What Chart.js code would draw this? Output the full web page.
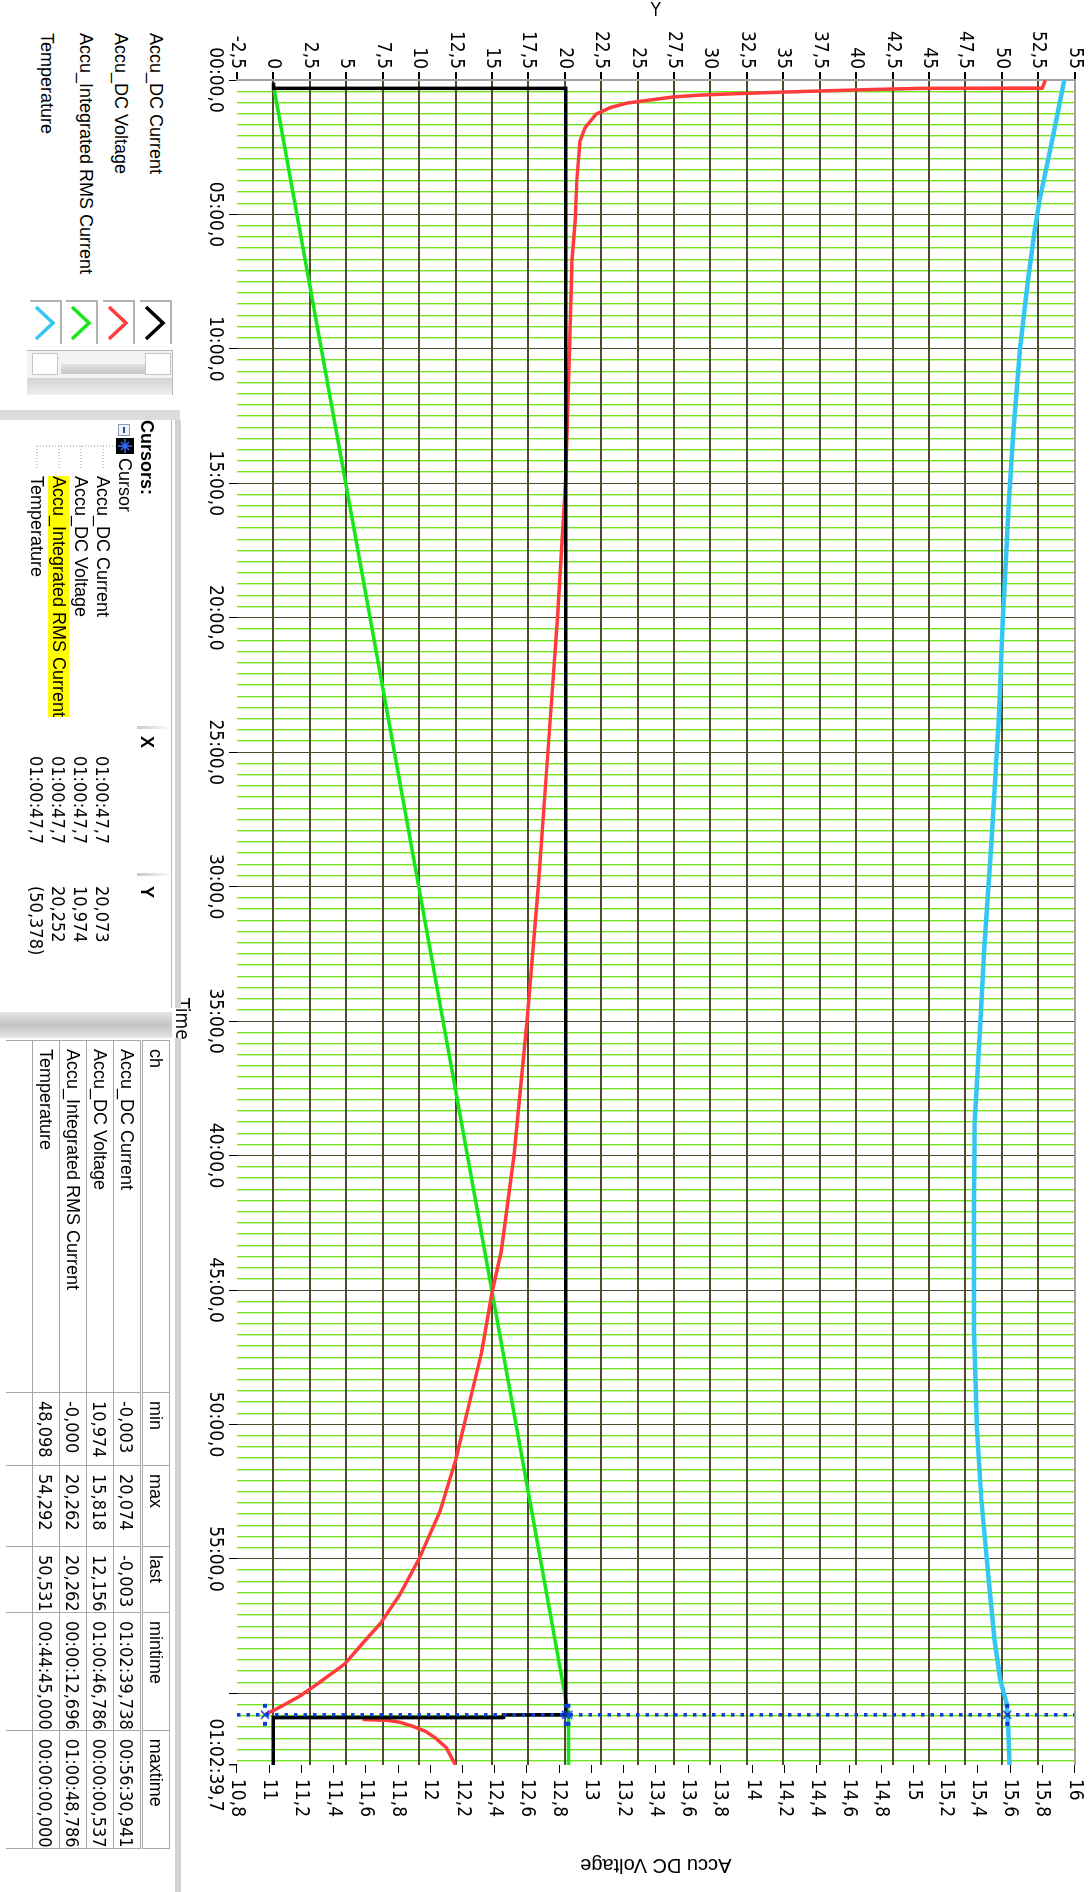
<!DOCTYPE html>
<html>
<head>
<meta charset="utf-8">
<title>Accu discharge</title>
<script src="https://cdn.jsdelivr.net/npm/chart.js@4.4.1/dist/chart.umd.min.js"></script>
<style>
    html, body { margin: 0; padding: 0; background: #fff; width: 1092px; height: 1892px; overflow: hidden; }
    /* the recorder window is laid out landscape and turned a quarter clockwise */
    #stage {
        position: absolute; left: 0; top: 0; width: 1892px; height: 1092px;
        transform-origin: 0 0; transform: translate(1092px, 0) rotate(90deg);
        background: #fff; color: #000;
        font-family: "Liberation Sans", Arial, sans-serif; font-size: 18px;
    }
    #plot { position: absolute; left: 0; top: 0; }
    .abs { position: absolute; white-space: nowrap; line-height: 21px; }
    .narrow { font-family: "Liberation Sans Narrow", "DejaVu Sans Condensed", "Liberation Sans", sans-serif; }
    .chev { position: absolute; width: 42px; height: 30px; border-left: 2px solid #b4b4b4; border-top: 2px solid #b4b4b4; }
    .chev svg { position: absolute; left: 2px; top: 2px; }
    .bar { position: absolute; background: #d6d6d6; }
    .btn { position: absolute; left: 2px; width: 20px; height: 24px; background: #fff; border: 1px solid #c4c4c4; }
    #cursorHead .sep { position: absolute; top: 0; width: 3px; height: 34px; background: linear-gradient(#fff, #c8c8c8); }
    #stats { position: absolute; left: 1040px; top: 922px; border-collapse: collapse; font-size: 18px; }
    #stats td { border: 1px solid #a8a8a8; height: 26px; padding: 0 0 0 8px; white-space: nowrap; vertical-align: middle; }
    #stats tr:first-child td { border-bottom: 3px double #a8a8a8; }
    #stats td.num { font-family: "Liberation Sans Narrow", "DejaVu Sans Condensed", "Liberation Sans", sans-serif; }
</style>
</head>
<body>
<div id="stage">
    <canvas id="plot" width="1892" height="900"></canvas>
    <div class="abs narrow" style="left:998px; top:899px; font-size:19px;">Time</div>

    <!-- channel list with colour chips -->
    <div class="abs" style="left:33px; top:926px;">Accu_DC Current</div>
    <div class="abs" style="left:33px; top:961px;">Accu_DC Voltage</div>
    <div class="abs" style="left:33px; top:996px;">Accu_Integrated RMS Current</div>
    <div class="abs" style="left:33px; top:1035px;">Temperature</div>
    <div id="chips"></div>
    <div style="position:absolute; left:350px; top:919px; width:44px; height:145px; background:#f3f3f3; border-left:1px solid #b8b8b8; border-top:1px solid #b8b8b8;">
        <div class="btn" style="top:1px;"></div>
        <div class="btn" style="top:114px;"></div>
        <div style="position:absolute; left:13px; top:27px; width:10px; height:84px; background:linear-gradient(90deg,#e2e2e2,#c6c6c6);"></div>
        <div style="position:absolute; left:27px; top:0; width:17px; height:145px; background:linear-gradient(90deg,#d4d4d4,#eeeeee);"></div>
    </div>
    <div class="bar" style="left:410px; top:912px; width:10px; height:180px; background:#dcdcdc;"></div>

    <!-- cursor readout -->
    <div class="bar" style="left:420px; top:911px; width:588px; height:6px; background:#d2d2d2;"></div>
    <div id="cursorHead" style="position:absolute; left:420px; top:920px; width:588px; height:36px; border-top:1px solid #b8b8b8;">
        <div class="sep" style="left:306px;"></div>
        <div class="sep" style="left:453px;"></div>
        <div class="abs" style="left:0; top:14px; font-weight:bold;">Cursors:</div>
        <div class="abs" style="left:316px; top:14px; font-weight:bold;">X</div>
        <div class="abs" style="left:466px; top:14px; font-weight:bold;">Y</div>
    </div>
    <div style="position:absolute; left:424px; top:962px; width:10px; height:10px; border:1px solid #8a9ab8; background:#eef2fa;">
        <div style="position:absolute; left:2px; top:4px; width:6px; height:2px; background:#2a4a9a;"></div>
    </div>
    <div style="position:absolute; left:438px; top:958px; width:16px; height:18px; background:#000;">
        <svg width="16" height="18"><path d="M8 2 V16 M1 9 H15 M4 5 L12 13 M12 5 L4 13" stroke="#2f6cff" stroke-width="1.5"/></svg>
    </div>
    <div class="abs" style="left:458px; top:957px;">Cursor</div>
    <svg style="position:absolute; left:440px; top:976px;" width="40" height="90">
        <path d="M6 0 V79 M6 13 H30 M6 35 H30 M6 57 H30 M6 79 H30" stroke="#9a9a9a" stroke-width="1" stroke-dasharray="1 2" fill="none"/>
    </svg>
    <div id="cursorRows"></div>

    <div class="bar" style="left:1012px; top:920px; width:26px; height:172px; background:linear-gradient(90deg,#e6e6e6,#c4c4c4,#e6e6e6);"></div>
    <div class="bar" style="left:1038px; top:911px; width:854px; height:6px; background:#d2d2d2;"></div>
    <table id="stats"></table>
</div>

<script>
// Time in minutes from record start; the record ends at 01:02:39,7
const TIME_END = 62 + 39.7 / 60;
const GRID_STEP = 25 / 60;           // fine grid every 25 s, heavy line every 5 min
const CURSOR_TIME = 60 + 47.7 / 60;  // 01:00:47,7

// Accu_DC Current [A]
const currentTime = [0.1, 0.3, 0.31, 60.79, 60.80, 60.89, 60.90, 62.66];
const currentVals = [0, 0, 20.07, 20.074, 15.8, 15.8, -0.003, -0.003];

// Accu_DC Voltage [V] (right axis); null marks the jump when the load drops off
const voltageTime = [0.01, 0.30, 0.31, 0.36, 0.45, 0.52, 0.56, 0.63, 0.74, 0.86, 1.02, 1.27, 1.78, 2.27, 3.7, 5.2, 6.7,
    10, 15, 20, 25, 30, 35, 40, 43.56, 45.05, 47.28, 48.77, 51.27, 53.24, 55.0, 56.33, 57.4, 58.0, 58.9, 59.6, 60.1, 60.5, 60.79,
    60.85, 60.97, 61.0, 61.07, 61.22, 61.41, 61.65, 62.02, 62.66];
const voltageVals = [15.818, 15.80, 15.05, 14.70, 14.19, 13.85, 13.68, 13.51, 13.37, 13.22, 13.12, 13.03, 12.96, 12.93, 12.91, 12.90, 12.88,
    12.865, 12.84, 12.79, 12.73, 12.67, 12.60, 12.52, 12.44, 12.385, 12.32, 12.26, 12.16, 12.06, 11.93, 11.81, 11.69, 11.60, 11.47, 11.31, 11.19, 11.07, 10.974,
    null, 11.58, 11.73, 11.81, 11.89, 11.97, 12.03, 12.10, 12.156];

// Accu_Integrated RMS Current [Ah]
const chargeTime = [0.21, 15, 30, 45.05, 60.79, 62.66];
const chargeVals = [0, 4.96, 9.98, 15.0, 20.262, 20.262];

// Temperature [°C]
const tempTime = [0, 2, 4.46, 5.58, 7.43, 10, 13, 15.6, 20.1, 23.8, 28.3, 32.3, 35.3, 38.7, 41.6, 44.75, 46.5, 50.2, 52.8, 55.8, 58.0, 59.5, 60.4, 61.3, 62.66];
const tempVals = [54.292, 53.55, 52.6, 52.26, 51.8, 51.25, 50.8, 50.5, 50.07, 49.8, 49.3, 48.8, 48.5, 48.15, 48.1, 48.098, 48.1, 48.3, 48.6, 49.1, 49.5, 49.9, 50.35, 50.45, 50.531];

// readings at the cursor
const cursorY = [20.073, 10.974, 20.252, 50.378];

const channels = ['Accu_DC Current', 'Accu_DC Voltage', 'Accu_Integrated RMS Current', 'Temperature'];
const channelColors = ['#000000', '#ff3b3b', '#19e619', '#36c6f4'];
const statCols = ['min', 'max', 'last', 'mintime', 'maxtime'];
const statRows = [
    ['-0,003', '20,074', '-0,003', '01:02:39,738', '00:56:30,941'],
    ['10,974', '15,818', '12,156', '01:00:46,786', '00:00:00,537'],
    ['-0,000', '20,262', '20,262', '00:00:12,696', '01:00:48,786'],
    ['48,098', '54,292', '50,531', '00:44:45,000', '00:00:00,000']
];

const NARROW = '"Liberation Sans Narrow", "DejaVu Sans Condensed", "Liberation Sans", sans-serif';
const OLIVE = '#4f4a30';
const FINE = '#74e41e';
const CURSOR_BLUE = '#0c3dd4';

function pts(xs, ys) {
    return xs.map((x, i) => ({ x: x, y: ys[i] }));
}

function comma(v) {
    return String(+v.toFixed(2)).replace('.', ',');
}

function fmtTime(min) {
    const tenths = Math.round(min * 600);
    const h = Math.floor(tenths / 36000);
    const m = Math.floor(tenths / 600) % 60;
    const s = Math.floor(tenths / 10) % 60;
    const p = n => String(n).padStart(2, '0');
    const core = p(m) + ':' + p(s) + ',' + (tenths % 10);
    return h ? p(h) + ':' + core : core;
}

function isEnd(v) {
    return Math.abs(v - TIME_END) < 1e-6;
}

function isMajor(v) {
    return Math.round(v / GRID_STEP) % 12 === 0 && !isEnd(v);
}

// cursor mark: a small cross with a square on each side
function cursorMark() {
    const c = document.createElement('canvas');
    c.width = 24; c.height = 10;
    const g = c.getContext('2d');
    g.fillStyle = CURSOR_BLUE;
    g.fillRect(1, 3, 4, 4);
    g.fillRect(19, 3, 4, 4);
    g.strokeStyle = CURSOR_BLUE;
    g.lineWidth = 1.5;
    g.beginPath();
    g.moveTo(8, 1); g.lineTo(16, 9);
    g.moveTo(16, 1); g.lineTo(8, 9);
    g.stroke();
    return c;
}

function buildPanels() {
    const chipTops = [920, 957, 994, 1030];
    let html = '';
    channelColors.forEach((col, i) => {
        html += `<div class="chev" style="left:300px; top:${chipTops[i]}px;">
            <svg width="40" height="28"><polyline points="3,22 19,5 35,22" fill="none" stroke="${col}" stroke-width="3.5"/></svg></div>`;
    });
    document.getElementById('chips').innerHTML = html;

    const rowTops = [979, 1001, 1023, 1045];
    html = '';
    channels.forEach((name, i) => {
        const hl = i === 2 ? 'background:#ffff00;' : '';
        const y = cursorY[i].toFixed(3).replace('.', ',');
        html += `<div class="abs" style="left:476px; top:${rowTops[i]}px; ${hl}">${name}</div>`;
        html += `<div class="abs narrow" style="left:756px; top:${rowTops[i]}px;">${fmtTime(CURSOR_TIME)}</div>`;
        html += `<div class="abs narrow" style="left:886px; top:${rowTops[i]}px;">${i === 3 ? '(' + y + ')' : y}</div>`;
    });
    document.getElementById('cursorRows').innerHTML = html;

    const widths = [352, 73, 81, 66, 112, 112];
    let t = '<tr><td style="width:' + (widths[0] - 9) + 'px">ch</td>';
    statCols.forEach((c, j) => { t += `<td style="width:${widths[j + 1] - 9}px">${c}</td>`; });
    t += '</tr>';
    channels.forEach((name, i) => {
        t += `<tr><td>${name}</td>`;
        statRows[i].forEach(v => { t += `<td class="num">${v}</td>`; });
        t += '</tr>';
    });
    t += '<tr><td style="border-bottom:none"></td>' + statCols.map(() => '<td style="border-bottom:none"></td>').join('') + '</tr>';
    document.getElementById('stats').innerHTML = t;
}

function buildChart() {
    const mark = cursorMark();
    const lineBase = { showLine: true, pointRadius: 0, borderWidth: 3.5, fill: false, tension: 0, spanGaps: false };

    new Chart(document.getElementById('plot'), {
        type: 'scatter',
        data: {
            datasets: [
                {
                    label: 'cursor marks', data: pts([CURSOR_TIME, CURSOR_TIME, CURSOR_TIME], [cursorY[0], cursorY[2], cursorY[3]]),
                    yAxisID: 'y', showLine: false, pointStyle: mark, pointRadius: 6
                },
                {
                    label: 'cursor mark V', data: pts([CURSOR_TIME], [cursorY[1]]),
                    yAxisID: 'yV', showLine: false, pointStyle: mark, pointRadius: 6
                },
                {
                    label: 'cursor', data: pts([CURSOR_TIME, CURSOR_TIME], [-2.5, 55]), yAxisID: 'y',
                    showLine: true, pointRadius: 0, borderColor: CURSOR_BLUE, borderWidth: 3.5, borderDash: [3.5, 6]
                },
                { ...lineBase, label: channels[0], data: pts(currentTime, currentVals), yAxisID: 'y', borderColor: channelColors[0] },
                { ...lineBase, label: channels[1], data: pts(voltageTime, voltageVals), yAxisID: 'yV', borderColor: channelColors[1] },
                { ...lineBase, label: channels[2], data: pts(chargeTime, chargeVals), yAxisID: 'y', borderColor: channelColors[2] },
                { ...lineBase, label: channels[3], data: pts(tempTime, tempVals), yAxisID: 'y', borderColor: channelColors[3], borderWidth: 4.5 }
            ]
        },
        options: {
            responsive: false,
            animation: false,
            devicePixelRatio: 1,
            layout: { padding: { top: 14, left: 0, right: 0, bottom: 0 } },
            plugins: { legend: { display: false }, tooltip: { enabled: false } },
            scales: {
                x: {
                    type: 'linear', min: 0, max: TIME_END,
                    afterFit: s => { s.height = 45; },
                    afterBuildTicks: s => {
                        const ticks = [];
                        for (let k = 0; k * GRID_STEP <= TIME_END; k++) ticks.push({ value: k * GRID_STEP });
                        ticks.push({ value: TIME_END });
                        s.ticks = ticks;
                    },
                    border: { display: false },
                    grid: {
                        color: c => isEnd(c.tick.value) ? 'rgba(0,0,0,0)' : (isMajor(c.tick.value) ? OLIVE : FINE),
                        tickColor: c => (isMajor(c.tick.value) || isEnd(c.tick.value)) ? '#000' : 'rgba(0,0,0,0)',
                        lineWidth: c => isMajor(c.tick.value) ? 1 : 1.4,
                        tickLength: 8
                    },
                    ticks: {
                        autoSkip: false, maxRotation: 0, minRotation: 0, padding: 3, color: '#000',
                        font: { family: NARROW, size: 19 },
                        callback: v => {
                            if (isEnd(v)) return fmtTime(v);
                            // the last full 5 min mark sits too close to the end stamp
                            if (!isMajor(v) || TIME_END - v < 4) return '';
                            return fmtTime(v);
                        }
                    }
                },
                y: {
                    type: 'linear', position: 'left', min: -2.5, max: 55,
                    afterFit: s => { s.width = 80; },
                    border: { display: true, color: '#a2a2a2', width: 2 },
                    grid: {
                        color: c => c.tick.value === -2.5 ? 'rgba(0,0,0,0)' : (c.tick.value === 55 ? '#a2a2a2' : OLIVE),
                        lineWidth: 2, tickColor: '#000', tickLength: 8
                    },
                    ticks: {
                        stepSize: 2.5, padding: 3, color: '#000',
                        font: { family: NARROW, size: 19 },
                        callback: v => comma(v)
                    },
                    title: { display: true, text: 'Y', color: '#000', font: { family: NARROW, size: 19 }, padding: { top: 0, bottom: 0 } }
                },
                yV: {
                    type: 'linear', position: 'right', min: 10.8, max: 16,
                    afterFit: s => { s.width = 127; },
                    border: { display: false },
                    grid: { drawOnChartArea: false, tickColor: '#000', tickLength: 8 },
                    ticks: {
                        stepSize: 0.2, padding: 6, color: '#000',
                        font: { family: NARROW, size: 19 },
                        callback: v => comma(v)
                    },
                    title: { display: true, text: 'Accu DC Voltage', color: '#000', font: { family: 'Liberation Sans', size: 20 }, padding: { top: 15, bottom: 0 } }
                }
            }
        }
    });
}

document.addEventListener('DOMContentLoaded', () => {
    buildPanels();
    buildChart();
});
</script>
</body>
</html>
